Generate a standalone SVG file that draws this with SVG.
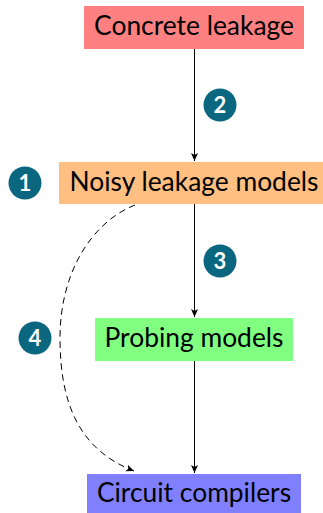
<svg xmlns="http://www.w3.org/2000/svg" width="323" height="513" viewBox="0 0 323 513">
  <defs>
    <marker id="tip" markerWidth="9" markerHeight="9" refX="8" refY="4.5" orient="auto" markerUnits="userSpaceOnUse">
      <path d="M0,1 L8,4.5 L0,8 L2,4.5 Z" fill="#000"/>
    </marker>
    <style>
      .box text { font-family: Lato, "Open Sans", sans-serif; font-size: 26.4px; fill: #000; text-anchor: middle; }
      .badge circle { fill: #0b6680; }
      .badge text { font-family: Lato, "Open Sans", sans-serif; font-size: 22px; font-weight: bold; fill: #fff; text-anchor: middle; }
      .edge { fill: none; stroke: #000; stroke-width: 1; marker-end: url(#tip); }
      .dashed { stroke-dasharray: 6.5 4.5; }
    </style>
  </defs>

  <!-- connectors -->
  <g id="connectors">
    <path class="edge" d="M194.5,49 L194.5,161"/>
    <path class="edge" d="M194.5,204 L194.5,317"/>
    <path class="edge" d="M194.5,361 L194.5,473"/>
    <path class="edge dashed" d="M135,205 C92,222 60,272 60,338 C60,405 80,450 134,471"/>
  </g>

  <!-- nodes -->
  <g id="concrete" class="box">
    <rect x="84" y="6" width="220" height="43" fill="#ff8080"/>
    <text x="194" y="35">Concrete leakage</text>
  </g>
  <g id="noisy" class="box">
    <rect x="59" y="162" width="264" height="42" fill="#ffbf80"/>
    <text x="194" y="190.5">Noisy leakage models</text>
  </g>
  <g id="probing" class="box">
    <rect x="95" y="318" width="198" height="43" fill="#80ff80"/>
    <text x="194" y="347">Probing models</text>
  </g>
  <g id="compilers" class="box">
    <rect x="87" y="474" width="214" height="39" fill="#8080ff"/>
    <text x="194" y="501.5">Circuit compilers</text>
  </g>

  <!-- numbered badges -->
  <g id="badge1" class="badge">
    <circle cx="25" cy="183" r="16.5"/>
    <text x="25" y="190.5">1</text>
  </g>
  <g id="badge2" class="badge">
    <circle cx="220" cy="105" r="16.5"/>
    <text x="220" y="112.5">2</text>
  </g>
  <g id="badge3" class="badge">
    <circle cx="220" cy="261" r="16.5"/>
    <text x="220" y="268.5">3</text>
  </g>
  <g id="badge4" class="badge">
    <circle cx="35" cy="338" r="16.5"/>
    <text x="35" y="345.5">4</text>
  </g>
</svg>
